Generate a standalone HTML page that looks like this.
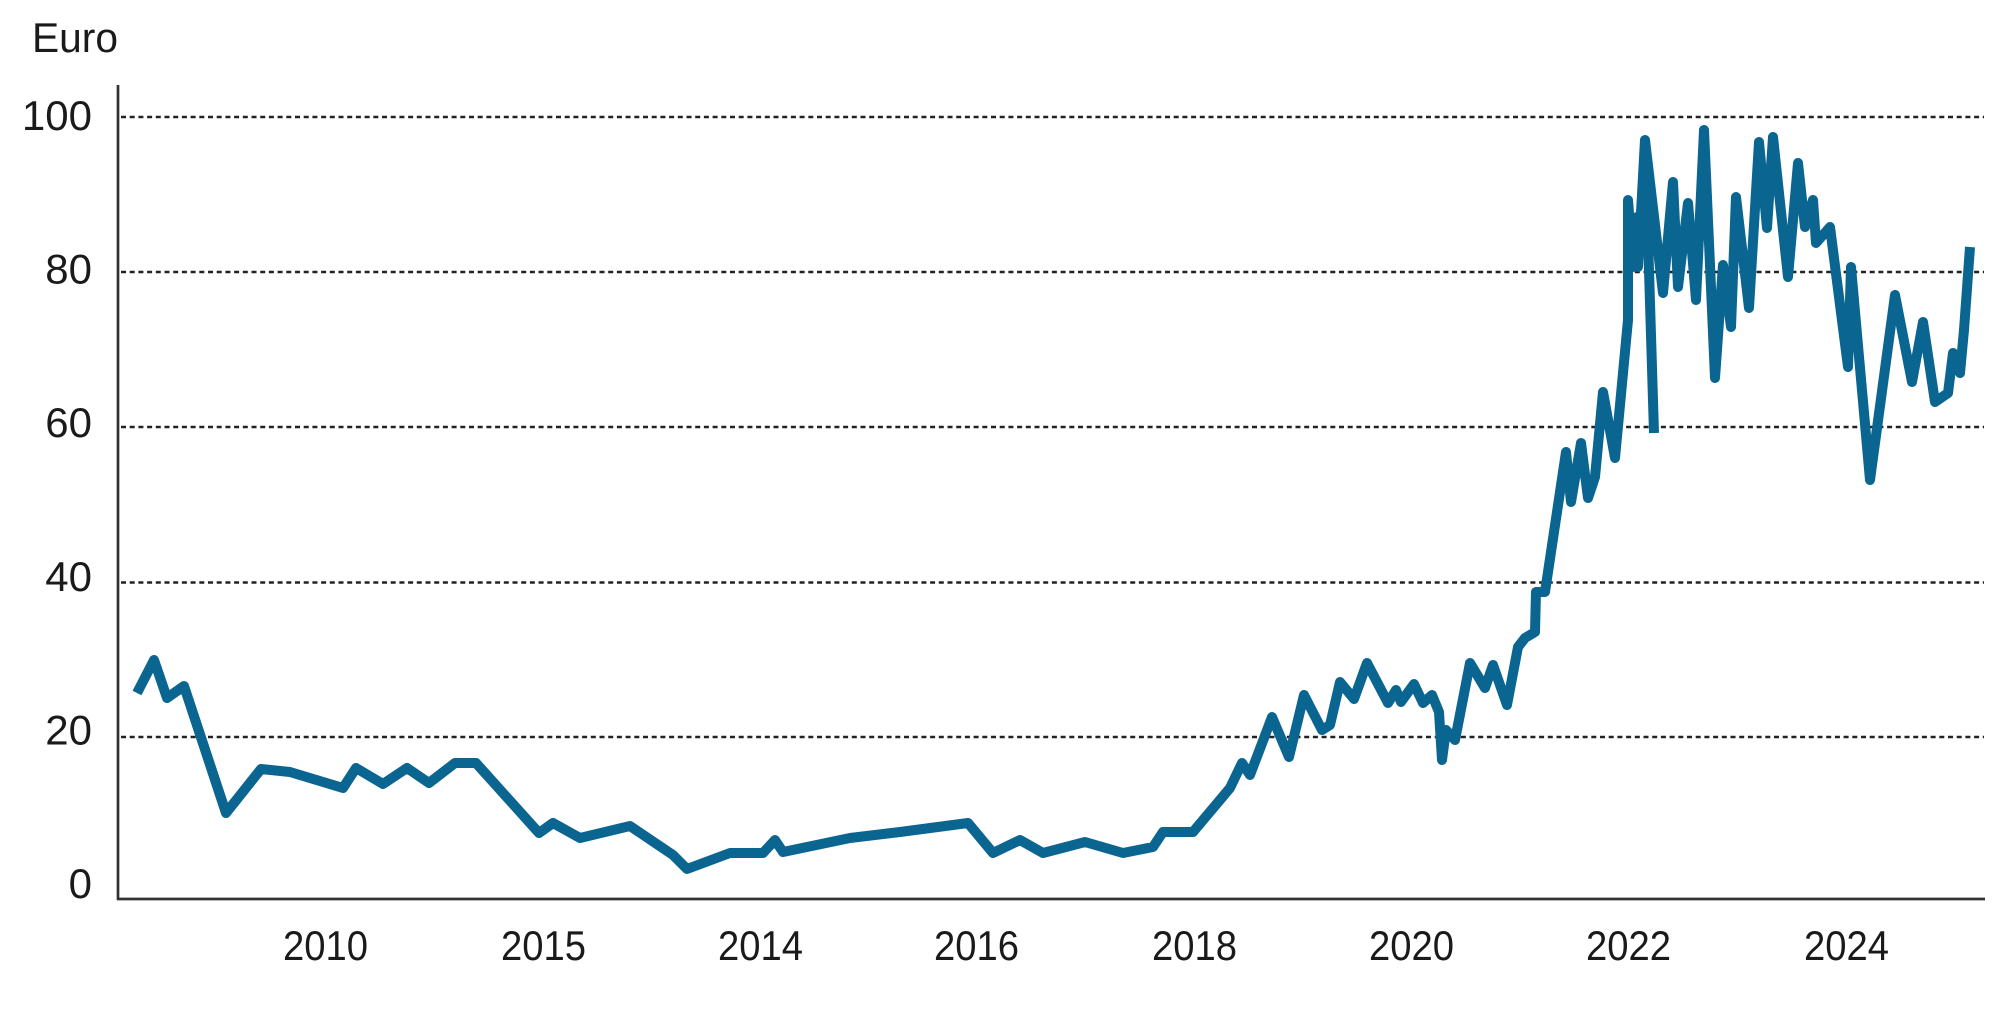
<!DOCTYPE html>
<html>
<head>
<meta charset="utf-8">
<style>
  html, body { margin: 0; padding: 0; background: #ffffff; }
  body { width: 2000px; height: 1020px; overflow: hidden; }
  svg { display: block; }
  text { font-family: "Liberation Sans", "DejaVu Sans", sans-serif; fill: #1a1a1a; }
</style>
</head>
<body>
<svg width="2000" height="1020" viewBox="0 0 2000 1020" xmlns="http://www.w3.org/2000/svg">
  <rect x="0" y="0" width="2000" height="1020" fill="#ffffff"/>

  <!-- unit label -->
  <text x="32" y="52" font-size="42" textLength="86" lengthAdjust="spacingAndGlyphs">Euro</text>

  <!-- gridlines -->
  <g stroke="#222" stroke-width="2.5" stroke-dasharray="5 3.7">
    <line x1="121" y1="117" x2="1984" y2="117"/>
    <line x1="121" y1="272" x2="1984" y2="272"/>
    <line x1="121" y1="427" x2="1984" y2="427"/>
    <line x1="121" y1="582.5" x2="1984" y2="582.5"/>
    <line x1="121" y1="737" x2="1984" y2="737"/>
  </g>

  <!-- axes -->
  <line x1="118" y1="85" x2="118" y2="900" stroke="#333" stroke-width="2.7"/>
  <line x1="117" y1="899" x2="1985" y2="899" stroke="#333" stroke-width="2.7"/>

  <!-- y labels -->
  <g font-size="42" text-anchor="end">
    <text x="92" y="130">100</text>
    <text x="92" y="283.6">80</text>
    <text x="92" y="437">60</text>
    <text x="92" y="591">40</text>
    <text x="92" y="744.5">20</text>
    <text x="92" y="898">0</text>
  </g>

  <!-- x labels -->
  <g font-size="42">
    <text x="283" y="960" textLength="85" lengthAdjust="spacingAndGlyphs">2010</text>
    <text x="501" y="960" textLength="85" lengthAdjust="spacingAndGlyphs">2015</text>
    <text x="718" y="960" textLength="85" lengthAdjust="spacingAndGlyphs">2014</text>
    <text x="934" y="960" textLength="85" lengthAdjust="spacingAndGlyphs">2016</text>
    <text x="1152" y="960" textLength="85" lengthAdjust="spacingAndGlyphs">2018</text>
    <text x="1369" y="960" textLength="85" lengthAdjust="spacingAndGlyphs">2020</text>
    <text x="1586" y="960" textLength="85" lengthAdjust="spacingAndGlyphs">2022</text>
    <text x="1804" y="960" textLength="85" lengthAdjust="spacingAndGlyphs">2024</text>
  </g>

  <!-- series -->
  <g fill="none" stroke="#0b6591" stroke-width="10" stroke-linejoin="round" stroke-linecap="butt">
    <polyline points="
      137,693 154,660 167,698 184,686 226,813 261,769 290,772 343,788 356,768 383,784
      407,768 429,783 455,763 476,763 539,833 553,823 580,838 630,826 673,855 687,869
      730,853 763,853 775,840 783,852 850,838 900,832 968,823 993,853 1020,840 1043,853
      1085,842 1123,853 1153,847 1163,832 1193,832 1230,788 1242,763 1250,775 1272,717
      1289,757 1304,695 1322,730 1330,725 1340,682 1354,699 1367,663 1388,703 1396,690
      1401,702 1414,684 1423,703 1432,695 1439,712 1442,760 1446,730 1455,740 1470,663
      1485,688 1493,665 1507,705 1518,647 1525,638 1535,632 1536,592 1545,592 1566,452
      1571,502 1581,443 1588,498 1595,477 1603,392 1615,458 1628,320 1628,200 1633,267
      1637,217 1638,267 1645,140 1663,293 1673,182 1678,287 1688,203 1696,300 1704,130
      1715,378 1723,265 1731,327 1736,197 1749,308 1759,142 1767,228 1773,137 1788,277
      1798,163 1805,227 1813,200 1816,243 1830,227 1848,367 1851,267 1870,480 1895,295
      1912,382 1923,322 1935,402 1948,393 1953,353 1960,373 1964,330 1970,247"/>
    <polyline points="1645,140 1654,433"/>
  </g>
</svg>
</body>
</html>
